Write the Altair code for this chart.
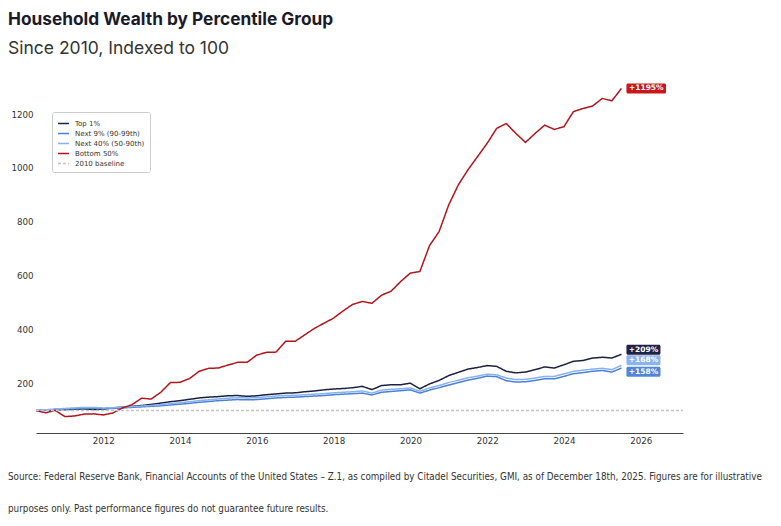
import altair as alt
import pandas as pd

# Quarterly observations, 2010 Q1 .. 2025 Q2 (quarter-end dates as decimal years)
quarters = [2010 + 0.25 * (i + 1) - 0.003 for i in range(62)]

top1 = [100, 101, 104, 103, 105, 106, 104, 105, 110, 113, 116, 119, 123, 128, 133, 137,
        142, 147, 150, 152, 155, 156, 153, 155, 159, 162, 165, 166, 170, 173, 177, 180,
        182, 185, 190, 178, 193, 196, 196, 202, 181, 199, 212, 230, 242, 254, 260, 267,
        264, 246, 240, 243, 252, 262, 258, 270, 283, 286, 295, 298, 295, 309]
next9 = [100, 102, 104, 106, 107, 109, 109, 107, 108, 110, 112, 114, 116, 118, 121, 124,
         127, 131, 134, 137, 139, 141, 140, 141, 144, 147, 149, 150, 152, 154, 156, 159,
         161, 163, 165, 158, 168, 171, 174, 177, 165, 176, 185, 195, 204, 213, 220, 228,
         226, 211, 206, 207, 212, 218, 218, 227, 237, 241, 246, 249, 243, 258]
next40 = [100, 103, 106, 108, 110, 112, 112, 110, 111, 113, 115, 117, 119, 122, 126, 129,
          133, 137, 140, 143, 146, 148, 147, 148, 151, 154, 156, 157, 159, 161, 163, 166,
          168, 170, 173, 165, 176, 179, 181, 184, 172, 184, 193, 204, 213, 222, 228, 235,
          233, 221, 215, 216, 221, 227, 227, 236, 246, 250, 254, 257, 252, 268]
bottom50 = [100, 92, 101, 78, 80, 87, 88, 84, 91, 110, 122, 146, 143, 168, 204, 205,
            219, 246, 257, 258, 269, 279, 279, 306, 316, 317, 357, 357, 381, 405, 424, 443,
            470, 494, 505, 498, 528, 543, 579, 610, 616, 712, 764, 863, 937, 993, 1042, 1091,
            1147, 1165, 1128, 1095, 1128, 1159, 1143, 1153, 1209, 1221, 1230, 1258, 1249, 1295]

series_names = ["Top 1%", "Next 9% (90-99th)", "Next 40% (50-90th)", "Bottom 50%", "2010 baseline"]
series_colors = ["#1c2140", "#4a80d8", "#86b3ee", "#b3141c", "#c4c4c4"]
label_colors = ["#1e2243", "#4f86dc", "#8ab4ee", "#c8161d"]
baseline_value = 100
x_min, x_max = 2010.247, 2027.1

title = "Household Wealth by Percentile Group"
subtitle = "Since 2010, Indexed to 100"
source_lines = [
    " Source: Federal Reserve Bank, Financial Accounts of the United States \u2013 Z.1, as compiled by Citadel Securities, GMI, as of December 18th, 2025. Figures are for illustrative",
    "purposes only. Past performance figures do not guarantee future results.",
]

rows = []
for name, vals in zip(series_names[:4], [top1, next9, next40, bottom50]):
    for q, v in zip(quarters, vals):
        rows.append({"date": q, "value": v, "series": name})
for q in [x_min, x_max]:
    rows.append({"date": q, "value": baseline_value, "series": "2010 baseline"})
df = pd.DataFrame(rows)

W, H = 647, 361
FONT = "DejaVu Sans"

x_enc = alt.X("date:Q", scale=alt.Scale(domain=[x_min, x_max], nice=False, zero=False),
              axis=alt.Axis(values=list(range(2012, 2027, 2)), format="d", title=None,
                            grid=False, ticks=False, domainColor="#444", domainWidth=1,
                            labelFont=FONT, labelFontSize=8.7, labelColor="#333",
                            labelPadding=3, labelFlush=False))
y_enc = alt.Y("value:Q", scale=alt.Scale(domain=[17, 1356], nice=False, zero=False),
              axis=alt.Axis(values=[200, 400, 600, 800, 1000, 1200], format="d", title=None,
                            grid=False, ticks=False, domain=False, labelFont=FONT,
                            labelFontSize=8.7, labelColor="#333", labelPadding=3))

leg = dict(title=None, orient="none", legendX=16, legendY=40)
lines = alt.Chart(df).mark_line(strokeCap="butt", strokeJoin="round").encode(
    x=x_enc,
    y=y_enc,
    color=alt.Color("series:N", scale=alt.Scale(domain=series_names, range=series_colors),
                    legend=alt.Legend(**leg, symbolType="stroke", symbolSize=120,
                                      labelFont=FONT, labelFontSize=7, labelColor="#333",
                                      rowPadding=0, padding=5, fillColor="white",
                                      strokeColor="#ccc", cornerRadius=2, labelOffset=5)),
    strokeDash=alt.StrokeDash("series:N",
                              scale=alt.Scale(domain=series_names,
                                              range=[[1, 0], [1, 0], [1, 0], [1, 0], [3, 2]]),
                              legend=alt.Legend(**leg)),
    strokeWidth=alt.StrokeWidth("series:N",
                                scale=alt.Scale(domain=series_names, range=[1.5, 1.5, 1.5, 2.3, 1]),
                                legend=alt.Legend(**leg)),
    order=alt.Order("date:Q"),
)

layers = [lines]
finals = [top1[-1], next9[-1], next40[-1], bottom50[-1]]
nudges = [-4.5, 3.7, -5, 0]  # pixel nudges to keep end labels apart
for name, fv, col, nd in zip(series_names[:4], finals, label_colors, nudges):
    txt = f"+{fv - baseline_value}%"
    wpx = len(txt) * 5.6 + 6
    ldf = pd.DataFrame({"date": [quarters[-1]], "value": [fv], "label": [txt]})
    box = alt.Chart(ldf).mark_rect(color=col, cornerRadius=1.5, xOffset=5, x2Offset=5 + wpx,
                                   yOffset=nd - 5, y2Offset=nd + 5).encode(
        x="date:Q", x2="date:Q", y="value:Q", y2="value:Q")
    lab = alt.Chart(ldf).mark_text(color="white", font=FONT, fontSize=7.5, fontWeight="bold",
                                   align="center", baseline="middle", dx=5 + wpx / 2,
                                   dy=nd).encode(x="date:Q", y="value:Q", text="label:N")
    layers += [box, lab]

for i, s in enumerate(source_lines):
    layers.append(
        alt.Chart(pd.DataFrame({"t": [s]})).mark_text(
            align="left", baseline="middle",
            font="Liberation Sans Narrow, DejaVu Sans Condensed, sans-serif",
            fontSize=9.8, color="#333").encode(
            x=alt.value(-28), y=alt.value(H + 44 + 32 * i), text="t:N")
    )

chart = alt.layer(*layers).properties(
    width=W, height=H,
    title=alt.TitleParams(title, subtitle=subtitle, anchor="start", frame="bounds",
                          font="Inter", fontSize=17.3, fontWeight="bold", color="#1a1a2a",
                          subtitleFont="Inter", subtitleFontSize=17.5, subtitleColor="#333",
                          subtitlePadding=12, offset=14.5),
    padding={"top": 2, "left": 0, "right": 0, "bottom": 0},
    background="white",
).configure_view(stroke=None)

chart.save("out.html", embed_options={"renderer": "svg", "actions": False})
